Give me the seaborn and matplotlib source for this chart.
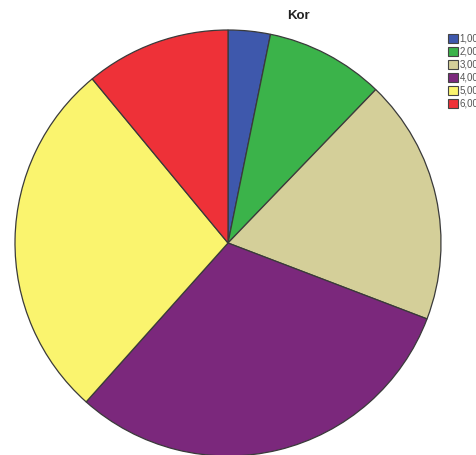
import matplotlib
matplotlib.use('Agg')
import matplotlib.pyplot as plt
import seaborn as sns

# --- Data ---
labels = ['1,00', '2,00', '3,00', '4,00', '5,00', '6,00']
values = [3.2, 9.0, 18.6, 30.8, 27.4, 11.0]
colors = ['#3e58ac', '#3bb34a', '#d4cf99', '#7b287c', '#faf46e', '#ee3138']

# --- Setup ---
sns.set_style('white')
plt.rcParams['font.family'] = ['Liberation Sans', 'DejaVu Sans']

fig = plt.figure(figsize=(4.77, 4.55), dpi=100)
W, H = 477, 455
cx, cy, r = 228, 243, 213
ax = fig.add_axes([(cx - r) / W, (H - cy - r) / H, 2 * r / W, 2 * r / H])

wedges, _ = ax.pie(values, colors=colors, startangle=90, counterclock=False,
                   wedgeprops={'edgecolor': '#3a3a3a', 'linewidth': 0.9})
ax.set_aspect('equal')
ax.set_xlim(-1, 1)
ax.set_ylim(-1, 1)

fig.text(298 / W, 1 - 16 / H, 'Kor', ha='center', va='center',
         fontsize=9.5, fontweight='bold', color='#222222')

leg = fig.legend(wedges, labels, loc='upper left',
                 bbox_to_anchor=(443 / W, 1 - 29 / H),
                 frameon=False, fontsize=7, handlelength=1.05, handleheight=1.05,
                 handletextpad=0.15, labelspacing=0.3, borderpad=0)
for t in leg.get_texts():
    t.set_color('#555555')
for h in leg.legend_handles:
    h.set_edgecolor('#444444')
    h.set_linewidth(0.8)

fig.savefig('out.png', dpi=100)
